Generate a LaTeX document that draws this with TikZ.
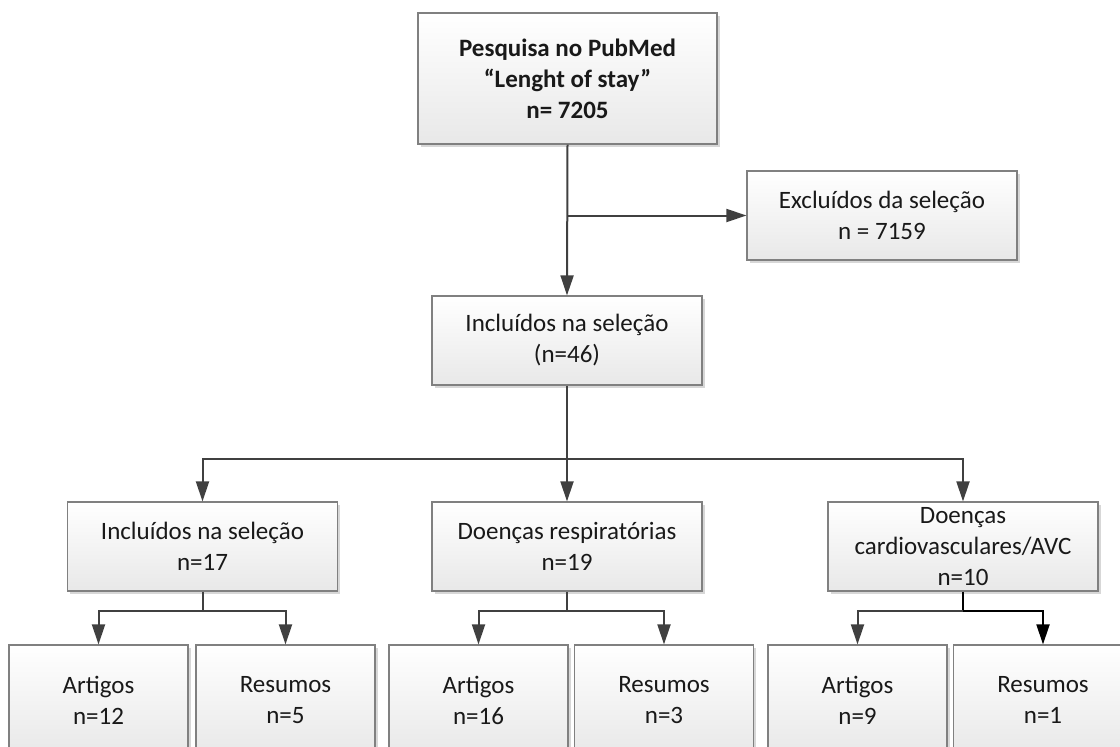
\documentclass[tikz,border=0pt]{standalone}
\usepackage{fontspec}
\setmainfont{Carlito}
\usetikzlibrary{arrows.meta,shadows}
\definecolor{boxline}{HTML}{808080}
\definecolor{conncol}{HTML}{404040}
\tikzset{
  box/.style={draw=boxline, line width=1.2pt, top color=white, bottom color=black!9,
    drop shadow={shadow xshift=2.5pt, shadow yshift=-2.5pt, fill=black!35, opacity=0.45},
    align=center, inner sep=2pt, font=\fontsize{25}{31}\selectfont, text=black!90},
  midbox/.style={box, minimum width=270pt, minimum height=89pt},
  lowbox/.style={box, minimum width=179pt, minimum height=110pt},
  conn/.style={draw=conncol, line width=2pt},
  arr/.style={conn, -{Triangle[length=20pt,width=13pt]}},
}
\begin{document}
\begin{tikzpicture}[x=1pt,y=-1pt]
\useasboundingbox (0,0) rectangle (1120,747);
\clip (0,0) rectangle (1120,747);
% nodes
\node[box, minimum width=299pt, minimum height=131pt, font=\fontsize{25}{31}\selectfont\bfseries] (top) at (567.5,78.5)
  {Pesquisa no PubMed\\``Lenght of stay''\\n= 7205};
\node[midbox] (excl) at (882,215.5) {Excluídos da seleção\\n = 7159};
\node[midbox] (inc) at (567,340.5) {Incluídos na seleção\\(n=46)};
\node[midbox] (g1) at (202.5,546.5) {Incluídos na seleção\\n=17};
\node[midbox] (g2) at (567,546.5) {Doenças respiratórias\\n=19};
\node[midbox] (g3) at (963,546.5) {Doenças\\cardiovasculares/AVC\\n=10};
\node[lowbox] (a1) at (98.5,700) {Artigos\\n=12};
\node[lowbox] (r1) at (285.5,700) {Resumos\\n=5};
\node[lowbox] (a2) at (478.5,700) {Artigos\\n=16};
\node[lowbox] (r2) at (664,700) {Resumos\\n=3};
\node[lowbox] (a3) at (857.5,700) {Artigos\\n=9};
\node[lowbox] (r3) at (1043,700) {Resumos\\n=1};
% split coordinates
\coordinate (s0) at (567,459);
\coordinate (s1) at (202.5,611);
\coordinate (s2) at (567,611);
\coordinate (s3) at (963,611);
% connectors
\draw[arr] (top.south) -- (inc.north);
\draw[arr] (top.south |- excl.west) -- (excl.west);
\draw[conn] (inc.south) -- (s0);
\draw[arr] (s0) -| (g1.north);
\draw[arr] (s0) -- (g2.north);
\draw[arr] (s0) -| (g3.north);
\draw[conn] (g1.south) -- (s1);
\draw[arr] (s1) -| (a1.north);
\draw[arr] (s1) -| (r1.north);
\draw[conn] (g2.south) -- (s2);
\draw[arr] (s2) -| (a2.north);
\draw[arr] (s2) -| (r2.north);
\draw[conn, draw=black] (g3.south) -- (s3);
\draw[arr] (s3) -| (a3.north);
\draw[arr, draw=black] (s3) -| (r3.north);
\end{tikzpicture}
\end{document}
